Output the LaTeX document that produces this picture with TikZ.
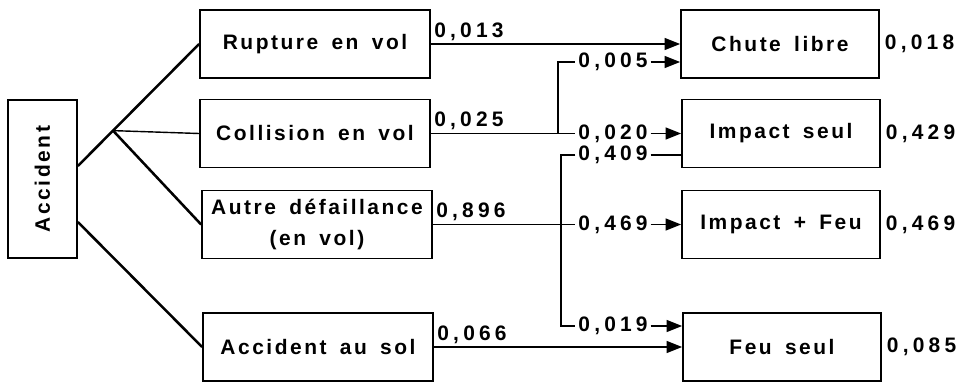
\documentclass[tikz,border=0pt]{standalone}
\usepackage{fontspec}
\setmainfont{Liberation Sans}[LetterSpace=12, WordSpace=1.6]
\newfontfamily\numfont{Liberation Sans}[LetterSpace=20]
\usetikzlibrary{calc, positioning, arrows.meta}

\tikzset{
  box/.style={draw, line width=1.2pt, minimum width=5.75cm, minimum height=1.7cm, align=center},
  outbox/.style={box, minimum width=4.95cm},
  val/.style={inner sep=2pt, font=\numfont\bfseries\fontsize{14.9}{17}\selectfont},
  flow/.style={line width=1pt},
  arr/.style={flow, -{Triangle[length=11pt,width=8.5pt]}},
  branch/.style={line width=1.8pt}
}

\begin{document}
\begin{tikzpicture}[x=0.025cm, y=-0.025cm, font=\bfseries\fontsize{14.9}{22.7}\selectfont]
  \useasboundingbox (0,0) rectangle (966,382);

  % Root box
  \node[box, minimum width=1.725cm, minimum height=3.95cm] (acc) at (42.5,179) {\rotatebox{90}{Accident}};

  % Initiating events
  \node[box] (rup) at (315,44) {Rupture en vol};
  \node[box] (col) at (315,133.5) {Collision en vol};
  \node[box] (aut) at (317,224.5) {Autre défaillance\\(en vol)};
  \node[box] (sol) at (318,347) {Accident au sol};

  % Outcomes
  \node[outbox] (chute) at (780,44) {Chute libre};
  \node[outbox] (iseul) at (781,133.5) {Impact seul};
  \node[outbox] (ifeu) at (781,224.5) {Impact + Feu};
  \node[outbox] (feu) at (782,347) {Feu seul};

  % Branches from the root
  \coordinate (a1) at ($(acc.east)+(0,-13)$);
  \coordinate (a2) at ($(acc.east)+(0,43)$);
  \coordinate (j1) at ($(a1)!0.29!(rup.west)$);
  \draw[branch] (a1) -- (rup.west);
  \draw[branch] (j1) -- (aut.west);
  \draw[flow] (j1) -- (col.west);
  \draw[branch] (a2) -- (sol.west);

  % Split points
  \coordinate (k1) at ($(col.east)+(127,0)$);
  \coordinate (k2) at ($(aut.east)+(128,0)$);

  % Split labels
  \node[val] (p005) at (613,62) {0,005};
  \node[val] (p020) at (613,133.5) {0,020};
  \node[val] (p409) at (613,155) {0,409};
  \node[val] (p469) at (613,224.5) {0,469};
  \node[val] (p019) at (613,326) {0,019};

  % Flows
  \draw[arr] (rup.east) -- node[val, above right, pos=0] (v13) {0,013} (chute.west);
  \draw[flow] (col.east) -- node[val, above right, pos=0] (v25) {0,025} (k1);
  \draw[flow] (aut.east) -- node[val, above right, pos=0] (v896) {0,896} (k2);
  \draw[arr] (sol.east) -- node[val, above right, pos=0] (v66) {0,066} (feu.west);

  \draw[flow] (k1) |- (p005.west);
  \draw[flow] (k1) -- (p020.west);
  \draw[flow] (p409.west) -| (k2) |- (p019.west);
  \draw[flow] (k2) -- (p469.west);

  \draw[arr] (p005.east) -- (p005.east -| chute.west);
  \draw[arr] (p020.east) -- (iseul.west);
  \draw[flow] (p409.east) -- (p409.east -| iseul.west);
  \draw[arr] (p469.east) -- (ifeu.west);
  \draw[arr] (p019.east) -- (p019.east -| feu.west);

  % Outcome probabilities
  \foreach \b/\v in {chute/{0,018}, iseul/{0,429}, ifeu/{0,469}, feu/{0,085}}
    \node[val, anchor=west] (o-\b) at ($(\b.east)+(2,0)$) {\v};
\end{tikzpicture}
\end{document}
